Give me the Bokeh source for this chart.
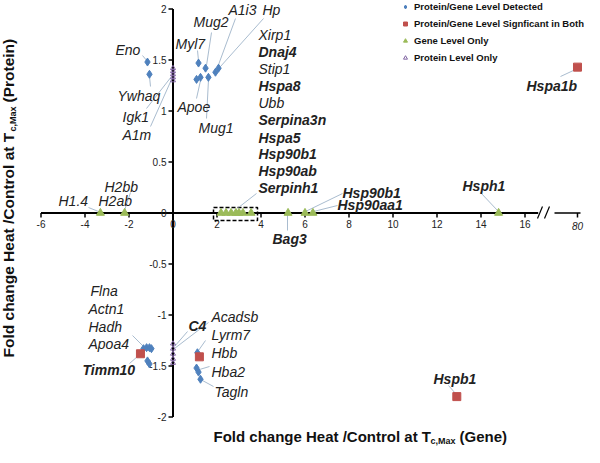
import math
from bokeh.plotting import figure
from bokeh.models import Legend, LegendItem
from bokeh.embed import file_html
from bokeh.resources import INLINE
from bokeh.core.properties import value

# ---------------- data (gene fold change x, protein fold change y) ----------------
det_x = [-1.16, -1.07, 1.16, 1.48, 1.07, 1.25, 1.61, 1.93, 2.07,
         -1.34, -1.20, -1.07, -0.98, -1.16, -1.07, 1.11, 1.07, 1.16, 1.25]
det_y = [1.48, 1.36, 1.47, 1.42, 1.31, 1.33, 1.33, 1.38, 1.42,
         -1.33, -1.32, -1.32, -1.33, -1.45, -1.48, -1.37, -1.52, -1.56, -1.63]

sig_x = [80.0, 12.9, -1.48, 1.20]
sig_y = [1.43, -1.80, -1.38, -1.41]

gene_x = [-3.3, -2.2, 2.18, 2.41, 2.64, 2.86, 3.00, 3.18, 3.55, 5.23, 6.00, 6.36, 14.8]
gene_y = [0.0] * len(gene_x)

prot_x = [0.0] * 10
prot_y = [1.42, 1.39, 1.36, 1.33, 1.30, -1.28, -1.33, -1.38, -1.43, -1.47]

x_ticks = [-6, -4, -2, 0, 2, 4, 6, 8, 10, 12, 14, 16]
x_break_tick = 80
y_ticks = [-2, -1.5, -1, -0.5, 0, 0.5, 1, 1.5, 2]
y_tick_labels = ["-2", "-1.5", "-1", "-0.5", "0", "0.5", "1", "1.5", "2"]

# ---------------- layout helpers ----------------
W, H = 584, 447
X0PX, XS = 172.5, 22.0     # pixel of x=0, px per unit
Y0PX, YS = 212.5, 102.0    # pixel of y=0, px per unit
BREAK_AT = 16.6
BREAK_SHIFT = 80 - 18.386


def dx(x):
    """broken x axis: values beyond the break are shifted left"""
    return x if x < BREAK_AT else x - BREAK_SHIFT


def fx(px):
    return (px - X0PX) / XS


def fy(py):
    return (Y0PX - py) / YS


FONT = "Liberation Sans"
BLUE, RED, GREEN, PURPLE = "#4f81bd", "#c0504d", "#9bbb59", "#8064a2"

p = figure(width=W, height=H, output_backend="svg", toolbar_location=None,
           x_range=(fx(0), fx(W)), y_range=(fy(H), fy(0)),
           x_axis_type=None, y_axis_type=None, min_border=0,
           outline_line_color=None, background_fill_color="white")
p.grid.visible = False

# ---------------- axes through the origin ----------------
p.segment(x0=[x_ticks[0]], y0=[0], x1=[BREAK_AT], y1=[0], line_color="black", line_width=2)
p.segment(x0=[0], y0=[y_ticks[0]], x1=[0], y1=[y_ticks[-1]], line_color="black", line_width=2)
p.segment(x0=x_ticks, y0=[0] * len(x_ticks), x1=x_ticks, y1=[fy(217)] * len(x_ticks),
          line_color="black", line_width=1.5)
p.segment(x0=[0] * len(y_ticks), y0=y_ticks, x1=[fx(168)] * len(y_ticks), y1=y_ticks,
          line_color="black", line_width=1.5)
p.text(x=x_ticks, y=[fy(219)] * len(x_ticks), text=[str(t) for t in x_ticks],
       text_font=value(FONT), text_font_size="10px", text_align="center",
       text_baseline="top", text_color="#222222")
p.text(x=[fx(166)] * len(y_ticks), y=y_ticks, text=y_tick_labels,
       text_font=value(FONT), text_font_size="10px", text_align="right",
       text_baseline="middle", text_color="#222222")

# broken segment with the 80 tick
bx = dx(x_break_tick)
p.segment(x0=[fx(554)], y0=[0], x1=[fx(580)], y1=[0], line_color="black", line_width=1.5)
p.segment(x0=[bx], y0=[0], x1=[bx], y1=[fy(217)], line_color="black", line_width=1.5)
p.segment(x0=[fx(537), fx(544)], y0=[fy(218), fy(218)], x1=[fx(542), fx(549)],
          y1=[fy(206), fy(206)], line_color="black", line_width=1.2)
p.text(x=[bx], y=[fy(221)], text=[str(x_break_tick)], text_font=value(FONT),
       text_font_size="10px", text_font_style="italic", text_align="center",
       text_baseline="top", text_color="#222222")

# dashed box around gene cluster
p.quad(left=[fx(213)], right=[fx(257)], top=[fy(207)], bottom=[fy(220)],
       fill_color=None, line_color="black", line_dash="4 2", line_width=1.5)

# ---------------- leader lines ----------------
LEAD = [((142, 55), (147, 61)), ((150, 86), (149, 76)), ((146, 108), (171, 76)),
        ((150, 126), (171, 79)), ((197, 50), (198, 60)), ((211, 32), (206, 65)),
        ((235, 18), (217, 67)), ((263, 18), (220, 66)), ((196, 98), (200, 80)),
        ((206, 118), (208, 79)), ((256, 193), (238, 207)), ((342, 193), (305, 211)),
        ((337, 205), (313, 211)), ((287, 230), (287, 214)), ((480, 192), (497, 210)),
        ((560, 76), (575, 69)), ((132, 335), (143, 346)), ((129, 363), (137, 356)),
        ((187, 331), (174, 346)), ((208, 322), (174, 348)), ((205, 340), (198, 350)),
        ((209, 366), (199, 369)), ((213, 386), (202, 380)), ((448, 385), (455, 393)),
        ((88, 207), (98, 211)), ((130, 192), (124, 210))]
p.segment(x0=[fx(a[0]) for a, b in LEAD], y0=[fy(a[1]) for a, b in LEAD],
          x1=[fx(b[0]) for a, b in LEAD], y1=[fy(b[1]) for a, b in LEAD],
          line_color="#a9bccf", line_width=1)

# ---------------- markers ----------------
r_det = p.scatter(det_x, det_y, marker="diamond", size=8, fill_color=BLUE, line_color=BLUE)
r_sig = p.scatter([dx(v) for v in sig_x], sig_y, marker="square", size=8,
                  fill_color=RED, line_color=RED)
r_gene = p.scatter(gene_x, gene_y, marker="triangle", size=8, fill_color=GREEN, line_color=GREEN)
r_prot = p.scatter(prot_x, prot_y, marker="triangle", size=5, fill_color=None,
                   line_color=PURPLE, line_width=1)

# ---------------- gene labels ----------------
# (text, pixel x, pixel y, bold)
LABELS = [("Eno", 115, 49, False), ("Ywhaq", 117, 95, False),
          ("Igk1", 122, 116, False), ("A1m", 122, 134, False),
          ("Myl7", 175, 43, False), ("Mug2", 193, 21, False),
          ("A1i3", 228, 9, False), ("Hp", 262, 9, False),
          ("Apoe", 177, 106, False), ("Mug1", 198, 127, False),
          ("Xirp1", 258, 34, False), ("Dnaj4", 258, 51, True),
          ("Stip1", 258, 68, False), ("Hspa8", 258, 85, True),
          ("Ubb", 258, 102, False), ("Serpina3n", 258, 119, True),
          ("Hspa5", 258, 137, True), ("Hsp90b1", 258, 153, True),
          ("Hsp90ab", 258, 170, True), ("Serpinh1", 258, 187, True),
          ("H1.4", 58, 200, False), ("H2bb", 104, 186, False),
          ("H2ab", 98, 200, False),
          ("Hsp90b1", 342, 192, True), ("Hsp90aa1", 337, 204, True),
          ("Hsph1", 462, 185, True), ("Bag3", 272, 238, True),
          ("Hspa1b", 526, 85, True), ("Hspb1", 433, 378, True),
          ("Flna", 90, 290, False), ("Actn1", 88, 308, False),
          ("Hadh", 88, 326, False), ("Apoa4", 88, 343, False),
          ("Timm10", 82, 369, True), ("C4", 188, 325, True),
          ("Acadsb", 211, 316, False), ("Lyrm7", 211, 334, False),
          ("Hbb", 211, 352, False), ("Hba2", 211, 371, False),
          ("Tagln", 214, 391, False)]
for bold in (False, True):
    sel = [l for l in LABELS if l[3] == bold]
    p.text(x=[fx(l[1]) for l in sel], y=[fy(l[2]) for l in sel], text=[l[0] for l in sel],
           text_font=value(FONT), text_font_size="14px",
           text_font_style="bold italic" if bold else "italic",
           text_align="left", text_baseline="middle", text_color="#222222")

# ---------------- axis titles ----------------
TSTYLE = dict(text_font=value(FONT), text_font_style="bold", text_color="#111111")
p.text(x=[fx(213)], y=[fy(436)], text=["Fold change Heat /Control at T"], text_font_size="15px",
       text_align="left", text_baseline="middle", **TSTYLE)
p.text(x=[fx(430)], y=[fy(440.5)], text=["c,Max"], text_font_size="9px",
       text_align="left", text_baseline="middle", **TSTYLE)
p.text(x=[fx(459)], y=[fy(436)], text=["(Gene)"], text_font_size="15px",
       text_align="left", text_baseline="middle", **TSTYLE)

p.text(x=[fx(8)], y=[fy(357)], text=["Fold change Heat /Control at T"], text_font_size="15.5px",
       angle=math.pi / 2, text_align="left", text_baseline="middle", **TSTYLE)
p.text(x=[fx(12.5)], y=[fy(131)], text=["c,Max"], text_font_size="9px",
       angle=math.pi / 2, text_align="left", text_baseline="middle", **TSTYLE)
p.text(x=[fx(8)], y=[fy(102)], text=["(Protein)"], text_font_size="15.5px",
       angle=math.pi / 2, text_align="left", text_baseline="middle", **TSTYLE)

# ---------------- legend ----------------
legend = Legend(items=[LegendItem(label="Protein/Gene Level Detected", renderers=[r_det]),
                       LegendItem(label="Protein/Gene Level Signficant in Both", renderers=[r_sig]),
                       LegendItem(label="Gene Level Only", renderers=[r_gene]),
                       LegendItem(label="Protein Level Only", renderers=[r_prot])],
                location=(400, 383), padding=0, margin=0, spacing=4,
                label_height=13, glyph_height=13, glyph_width=10, label_standoff=4,
                label_text_font=FONT, label_text_font_size="9.5px",
                label_text_font_style="bold", label_text_color="#111111",
                border_line_color=None, background_fill_alpha=0)
p.add_layout(legend, "center")

open("out.html", "w").write(file_html(p, INLINE))
